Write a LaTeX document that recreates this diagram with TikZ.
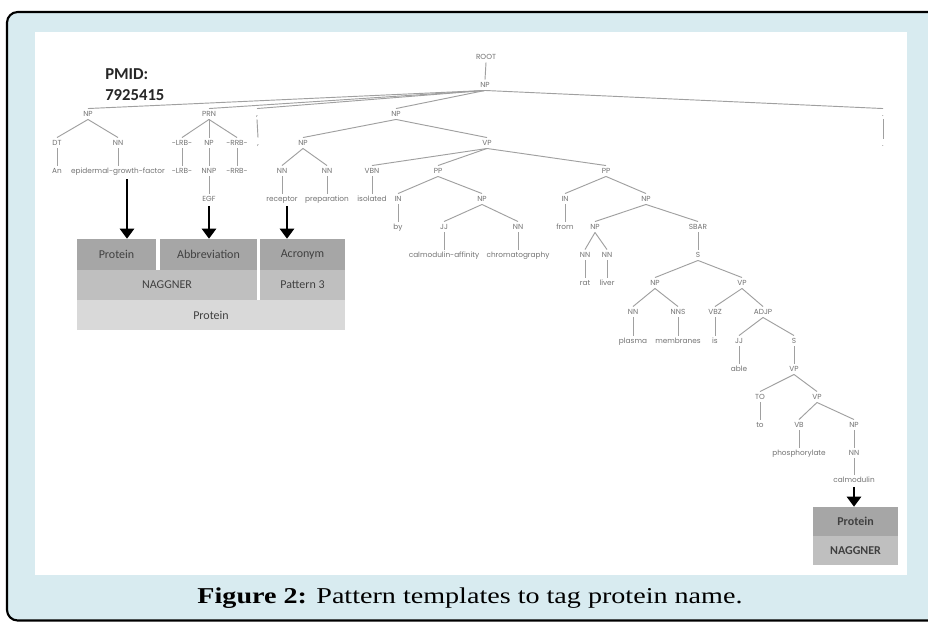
\documentclass[tikz,border=0pt]{standalone}
\usepackage{fontspec}
\setmainfont{Liberation Serif}
\newfontfamily\capfont[FakeStretch=1.24]{Liberation Serif}
\newfontfamily\treefont{Poppins}
\newfontfamily\boxfont{Carlito}
\usetikzlibrary{arrows.meta}
\definecolor{framebg}{RGB}{216,235,240}
\definecolor{lbl}{RGB}{115,115,115}
\definecolor{edg}{RGB}{160,160,160}
\definecolor{gA}{RGB}{166,166,166}
\definecolor{gB}{RGB}{191,191,191}
\definecolor{gC}{RGB}{217,217,217}
\definecolor{btext}{RGB}{64,64,64}
\definecolor{pmcol}{RGB}{38,38,38}
\begin{document}
\begin{tikzpicture}[x=0.75pt,y=-0.75pt,
  t/.style={font=\treefont\fontsize{5.5}{6}\selectfont, text=lbl, inner sep=1.2pt, text height=4.2pt, text depth=1.2pt},
  e/.style={draw=edg, line width=0.7pt},
  big/.style={line width=2pt, -{Triangle[width=10.5pt,length=7.5pt]}},
  bx/.style={inner sep=0pt, font=\boxfont\fontsize{9}{10}\selectfont, text=btext},
  bxb/.style={bx, font=\boxfont\bfseries\fontsize{9}{10}\selectfont},
  pm/.style={font=\boxfont\bfseries\fontsize{12.5}{14}\selectfont, text=pmcol, anchor=west, inner sep=0pt}
]
\useasboundingbox (0,0) rectangle (928,622);
\clip (0,0) rectangle (928,622);
% frame
\draw[line width=1.6pt, fill=framebg, rounded corners=8pt] (7,12) rectangle (945,620.5);
\fill[white] (35,32) rectangle (907,575);

% PMID
\node[pm] (pmid) at (105,74) {PMID:};
\node[pm] (pmnum) at (105,95) {7925415};

% tree nodes
\node[t] (root) at (486,57) {ROOT};
\node[t] (np0) at (485,85) {NP};
% row 114
\node[t] (np1) at (88,114) {NP};
\node[t] (prn) at (209,114) {PRN};
\node[t] (cm) at (257,114) {,};
\node[t] (np2) at (396,114) {NP};
\node[t] (pd) at (883,114) {.};
% row 143
\node[t] (dt) at (57,143) {DT};
\node[t] (nn1) at (118,143) {NN};
\node[t] (lrb) at (182,143) {-LRB-};
\node[t] (np3) at (209,143) {NP};
\node[t] (rrb) at (237,143) {-RRB-};
\node[t] (cmw) at (258,143) {,};
\node[t] (np4) at (303,143) {NP};
\node[t] (vp1) at (487,143) {VP};
\node[t] (pdw) at (883,144) {.};
% row 171
\node[t] (an) at (57,171) {An};
\node[t] (egf) at (118,171) {epidermal-growth-factor};
\node[t] (lrbw) at (182,171) {-LRB-};
\node[t] (nnp) at (209,171) {NNP};
\node[t] (rrbw) at (237,171) {-RRB-};
\node[t] (nn2) at (282,171) {NN};
\node[t] (nn3) at (327,171) {NN};
\node[t] (vbn) at (372,171) {VBN};
\node[t] (pp1) at (438,171) {PP};
\node[t] (pp2) at (606,171) {PP};
% row 199
\node[t] (egfw) at (209,199) {EGF};
\node[t] (recep) at (282,199) {receptor};
\node[t] (prep) at (327,199) {preparation};
\node[t] (isol) at (372,199) {isolated};
\node[t] (in1) at (398,199) {IN};
\node[t] (np5) at (482,199) {NP};
\node[t] (in2) at (565,199) {IN};
\node[t] (np6) at (646,199) {NP};
% row 227
\node[t] (by) at (398,227) {by};
\node[t] (jj) at (444,227) {JJ};
\node[t] (nn4) at (518,227) {NN};
\node[t] (from) at (565,227) {from};
\node[t] (np7) at (595,227) {NP};
\node[t] (sbar) at (698,227) {SBAR};
% row 255
\node[t] (calaff) at (444,255) {calmodulin-affinity};
\node[t] (chrom) at (518,255) {chromatography};
\node[t] (nn5) at (585,255) {NN};
\node[t] (nn6) at (607,255) {NN};
\node[t] (s1) at (698,255) {S};
% row 283
\node[t] (rat) at (585,283) {rat};
\node[t] (liver) at (607,283) {liver};
\node[t] (np8) at (655,283) {NP};
\node[t] (vp2) at (742,283) {VP};
% row 312
\node[t] (nn7) at (633,312) {NN};
\node[t] (nns) at (678,312) {NNS};
\node[t] (vbz) at (715,312) {VBZ};
\node[t] (adjp) at (763,312) {ADJP};
% row 341
\node[t] (plasma) at (633,341) {plasma};
\node[t] (membr) at (678,341) {membranes};
\node[t] (is) at (715,341) {is};
\node[t] (jj2) at (739,341) {JJ};
\node[t] (s2) at (794,341) {S};
% row 369
\node[t] (able) at (739,369) {able};
\node[t] (vp3) at (794,369) {VP};
% row 397
\node[t] (to1) at (760,397) {TO};
\node[t] (vp4) at (817,397) {VP};
% row 425
\node[t] (tow) at (760,425) {to};
\node[t] (vb) at (799,425) {VB};
\node[t] (np9) at (854,425) {NP};
% row 453
\node[t] (phos) at (799,453) {phosphorylate};
\node[t] (nn8) at (854,453) {NN};
% row 480
\node[t] (calm) at (854,480) {calmodulin};

% edges
\draw[e] (root.south) -- (np0.north);
\foreach \c in {np1,prn,cm,np2,pd} \draw[e] (np0.south) -- (\c.north);
\foreach \a/\b in {np1/dt,np1/nn1,dt/an,nn1/egf,prn/lrb,prn/np3,prn/rrb,lrb/lrbw,np3/nnp,nnp/egfw,rrb/rrbw,cm/cmw,pd/pdw,
  np2/np4,np2/vp1,np4/nn2,np4/nn3,nn2/recep,nn3/prep,vp1/vbn,vp1/pp1,vp1/pp2,vbn/isol,pp1/in1,pp1/np5,in1/by,np5/jj,np5/nn4,jj/calaff,nn4/chrom,
  pp2/in2,pp2/np6,in2/from,np6/np7,np6/sbar,np7/nn5,np7/nn6,nn5/rat,nn6/liver,sbar/s1,s1/np8,s1/vp2,np8/nn7,np8/nns,nn7/plasma,nns/membr,
  vp2/vbz,vp2/adjp,vbz/is,adjp/jj2,adjp/s2,jj2/able,s2/vp3,vp3/to1,vp3/vp4,to1/tow,vp4/vb,vp4/np9,vb/phos,np9/nn8,nn8/calm}
  \draw[e] (\a.south) -- (\b.north);

% boxes
\node[bx, fill=gA, minimum width=59.25pt, minimum height=23.25pt] (prot) at (116.5,254.5) {Protein};
\node[bx, fill=gA, minimum width=72.75pt, minimum height=23.25pt] (abbr) at (208.5,254.5) {Abbreviation};
\node[bx, fill=gA, minimum width=63.75pt, minimum height=23.25pt] (acro) at (302.5,254.5) {Acronym};
\node[bx, fill=gB, minimum width=135pt, minimum height=22.5pt] (nagg) at (167,285) {NAGGNER};
\node[bx, fill=gB, minimum width=63.75pt, minimum height=22.5pt] (pat) at (302.5,285) {Pattern 3};
\node[bx, fill=gC, minimum width=201pt, minimum height=22.5pt] (prot2) at (211,315) {Protein};
\node[bxb, fill=gA, minimum width=63.75pt, minimum height=21.75pt] (prot3) at (855.5,521.5) {Protein};
\node[bxb, fill=gB, minimum width=63.75pt, minimum height=21.75pt] (nagg2) at (855.5,550.5) {NAGGNER};

% arrows
\coordinate (a1) at (127,179);
\draw[big] (a1) -- (a1 |- prot.north);
\draw[big] ([yshift=-1pt]egfw.south) -- (egfw.south |- abbr.north);
\coordinate (a3) at (287,206);
\draw[big] (a3) -- (a3 |- acro.north);
\draw[big] ([yshift=-1pt]calm.south) -- (calm.south |- prot3.north);

% caption
\node[font=\capfont\fontsize{17}{20}\selectfont, text=black, inner sep=0pt] (cap) at (470,598) {\textbf{Figure 2:} Pattern templates to tag protein name.};
\end{tikzpicture}
\end{document}
